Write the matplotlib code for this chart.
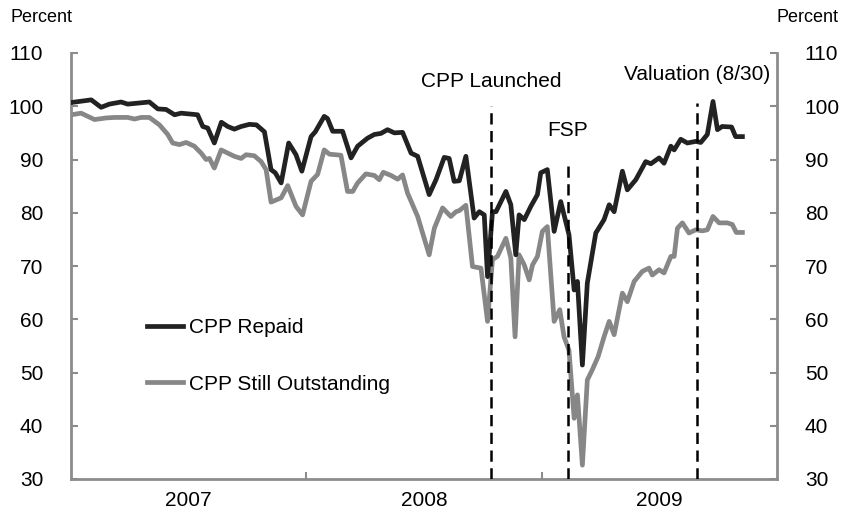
import matplotlib
matplotlib.use("Agg")
import matplotlib.pyplot as plt
from matplotlib.lines import Line2D

plt.rcParams['font.family'] = ['Liberation Sans', 'DejaVu Sans']

# time axis in fractional years (roughly weekly readings)
repaid_t = [2007.001, 2007.086, 2007.128, 2007.163, 2007.213, 2007.241, 2007.333, 2007.369,
            2007.404, 2007.440, 2007.468, 2007.538, 2007.560, 2007.581, 2007.609, 2007.639,
            2007.666, 2007.694, 2007.723, 2007.758, 2007.788, 2007.822, 2007.850, 2007.868,
            2007.893, 2007.925, 2007.956, 2007.981, 2008.020, 2008.038, 2008.076, 2008.090,
            2008.112, 2008.154, 2008.190, 2008.218, 2008.260, 2008.289, 2008.317, 2008.345,
            2008.374, 2008.409, 2008.445, 2008.473, 2008.522, 2008.551, 2008.586, 2008.607,
            2008.628, 2008.650, 2008.678, 2008.713, 2008.735, 2008.756, 2008.770, 2008.791,
            2008.806, 2008.848, 2008.869, 2008.890, 2008.904, 2008.926, 2008.954, 2008.982,
            2008.996, 2009.024, 2009.053, 2009.081, 2009.116, 2009.138, 2009.152, 2009.173,
            2009.194, 2009.230, 2009.265, 2009.287, 2009.308, 2009.343, 2009.364, 2009.400,
            2009.442, 2009.464, 2009.499, 2009.520, 2009.549, 2009.563, 2009.591, 2009.619,
            2009.655, 2009.676, 2009.704, 2009.728, 2009.747, 2009.767, 2009.807, 2009.824,
            2009.853]
repaid_pct = [100.7, 101.2, 99.8, 100.4, 100.8, 100.4, 100.8, 99.5,
              99.4, 98.4, 98.7, 98.4, 96.2, 95.9, 93.1, 97.0,
              96.2, 95.7, 96.2, 96.6, 96.5, 95.2, 88.1, 87.5,
              85.6, 93.1, 90.9, 87.8, 94.3, 95.2, 98.1, 97.7,
              95.3, 95.3, 90.3, 92.5, 94.0, 94.7, 94.9, 95.6,
              95.0, 95.1, 91.2, 90.6, 83.4, 86.2, 90.4, 90.2,
              85.9, 86.0, 90.6, 79.0, 80.2, 79.6, 68.0, 80.2,
              80.2, 84.0, 81.5, 72.1, 79.6, 78.7, 81.2, 83.4,
              87.5, 88.1, 76.5, 82.1, 75.9, 65.5, 67.1, 51.4,
              66.8, 76.2, 78.7, 81.5, 80.2, 87.8, 84.3, 86.2,
              89.6, 89.2, 90.3, 89.3, 92.5, 91.8, 93.8, 93.1,
              93.4, 93.2, 94.7, 100.9, 95.6, 96.2, 96.1, 94.3,
              94.3]

outstanding_t = [2007.001, 2007.043, 2007.100, 2007.149, 2007.185, 2007.241, 2007.270, 2007.298,
                 2007.333, 2007.376, 2007.411, 2007.432, 2007.461, 2007.489, 2007.524, 2007.553,
                 2007.574, 2007.588, 2007.609, 2007.638, 2007.694, 2007.723, 2007.744, 2007.779,
                 2007.808, 2007.829, 2007.850, 2007.893, 2007.921, 2007.956, 2007.984, 2008.020,
                 2008.048, 2008.076, 2008.098, 2008.147, 2008.175, 2008.197, 2008.218, 2008.253,
                 2008.289, 2008.310, 2008.327, 2008.360, 2008.388, 2008.409, 2008.430, 2008.473,
                 2008.494, 2008.522, 2008.544, 2008.579, 2008.614, 2008.636, 2008.650, 2008.678,
                 2008.706, 2008.742, 2008.770, 2008.791, 2008.812, 2008.848, 2008.869, 2008.887,
                 2008.904, 2008.926, 2008.947, 2008.961, 2008.982, 2009.003, 2009.024, 2009.053,
                 2009.077, 2009.095, 2009.116, 2009.138, 2009.152, 2009.173, 2009.194, 2009.215,
                 2009.240, 2009.265, 2009.287, 2009.308, 2009.343, 2009.364, 2009.393, 2009.428,
                 2009.456, 2009.470, 2009.499, 2009.520, 2009.549, 2009.563, 2009.577, 2009.598,
                 2009.626, 2009.655, 2009.683, 2009.704, 2009.728, 2009.754, 2009.789, 2009.810,
                 2009.827, 2009.853]
outstanding_pct = [98.4, 98.7, 97.5, 97.8, 97.9, 97.9, 97.6, 97.9,
                   97.9, 96.5, 94.7, 93.1, 92.8, 93.2, 92.5, 91.2,
                   90.0, 90.2, 88.4, 91.8, 90.6, 90.2, 90.9, 90.7,
                   89.6, 88.1, 82.0, 82.8, 85.1, 81.2, 79.6, 85.9,
                   87.2, 91.8, 91.0, 90.8, 84.0, 84.0, 85.6, 87.3,
                   87.0, 86.2, 87.6, 87.0, 86.3, 87.1, 83.7, 79.3,
                   76.2, 72.1, 77.1, 80.9, 79.3, 80.2, 80.4, 81.4,
                   69.9, 69.6, 59.6, 71.2, 71.8, 75.2, 71.5, 56.7,
                   72.1, 70.2, 67.4, 70.2, 71.8, 76.5, 77.4, 59.6,
                   61.8, 56.7, 54.2, 41.4, 45.8, 32.6, 48.6, 50.5,
                   53.0, 56.7, 59.6, 57.1, 64.9, 63.3, 67.1, 69.0,
                   69.6, 68.3, 69.3, 68.7, 71.8, 71.8, 77.1, 78.1,
                   76.2, 76.8, 76.6, 76.8, 79.3, 78.1, 78.1, 77.8,
                   76.3, 76.3]

events = ['CPP Launched', 'FSP', 'Valuation (8/30)']
event_t = [2008.784, 2009.110, 2009.660]
event_top = [100.0, 90.0, 100.6]
years = [2007, 2008, 2009]

W, H = 844, 512
fig = plt.figure(figsize=(W / 100, H / 100), dpi=100)
ax = fig.add_axes([71 / W, (H - 479) / H, (777 - 71) / W, (479 - 53) / H])

grey = '#8c8c8c'
ax.plot(repaid_t, repaid_pct, color='#222222', lw=3.4, solid_joinstyle='round', zorder=3)
ax.plot(outstanding_t, outstanding_pct, color='#878787', lw=3.4, solid_joinstyle='round', zorder=2)

for name, t, top, dy in zip(events, event_t, event_top, [4.6, 5.4, 5.4]):
    ax.plot([t, t], [30, top], color='black', lw=1.8, ls=(0, (4.5, 2.6)), zorder=4)
    ax.text(t, top + dy, name, ha='center', va='center', fontsize=15)

ax.set_xlim(2007, 2010)
ax.set_ylim(30, 110)
ax.set_yticks(range(30, 111, 10))
ax.set_xticks([y + 0.5 for y in years])
ax.set_xticklabels([str(y) for y in years])
ax.set_xticks([2008, 2009], minor=True)

ax.tick_params(axis='x', which='major', length=0, pad=9, labelsize=15)
ax.tick_params(axis='x', which='minor', direction='in', length=5, color=grey, width=1.5)
ax.tick_params(axis='y', direction='in', length=5, color=grey, width=1.5,
               labelsize=15, pad=20, left=True, right=True, labelleft=True, labelright=True)

ax.spines['top'].set_visible(False)
for s in ['left', 'right', 'bottom']:
    ax.spines[s].set_color(grey)
    ax.spines[s].set_linewidth(2)

handles = [Line2D([], [], color='#222222', lw=3.4), Line2D([], [], color='#878787', lw=3.4)]
ax.legend(handles, ['CPP Repaid', 'CPP Still Outstanding'], loc='upper left',
          bbox_to_anchor=((147 - 71) / 706, (479 - 318) / 426), frameon=False,
          fontsize=15, handlelength=1.75, handletextpad=0.25, labelspacing=1.8,
          borderpad=0, borderaxespad=0)

fig.text(10 / W, 1 - 17 / H, 'Percent', fontsize=13, ha='left', va='center')
fig.text(838 / W, 1 - 17 / H, 'Percent', fontsize=13, ha='right', va='center')

fig.savefig('out.png', dpi=100)
